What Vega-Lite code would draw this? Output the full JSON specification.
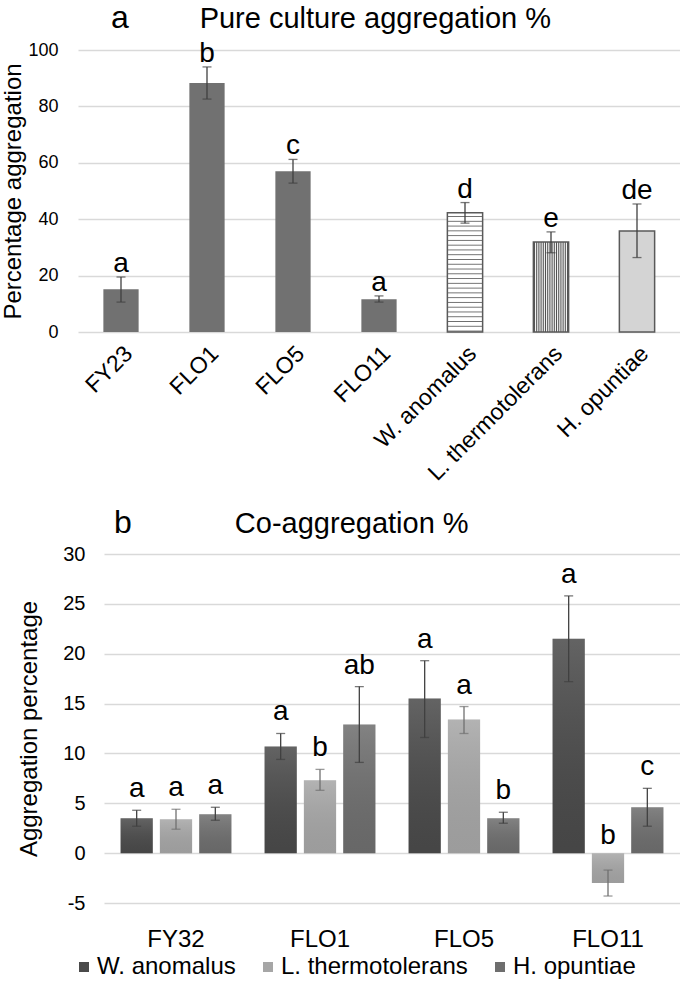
{
  "$schema": "https://vega.github.io/schema/vega-lite/v6.json",
  "background": "white",
  "padding": {"left": 0, "top": 1, "right": 0, "bottom": 0},
  "config": {
    "view": {"stroke": null},
    "font": "Liberation Sans",
    "axis": {"labelColor": "#000", "titleColor": "#000", "titleFontWeight": "normal", "gridColor": "#d9d9d9", "gridWidth": 1.3, "domain": false, "ticks": false, "labelFont": "Liberation Sans", "titleFont": "Liberation Sans"},
    "title": {"fontWeight": "normal", "color": "#000", "subtitleColor": "#000", "font": "Liberation Sans", "subtitleFont": "Liberation Sans"},
    "legend": {"labelFont": "Liberation Sans", "labelColor": "#000"},
    "text": {"font": "Liberation Sans", "color": "#000"}
  },
  "spacing": 22,
  "resolve": {"legend": {"color": "independent"}},
  "vconcat": [
    {
      "spacing": 0,
      "hconcat": [
        {
          "width": 1,
          "height": 10,
          "view": {"fill": "white"},
          "data": {"values": [{"s": ""}]},
          "mark": "text",
          "encoding": {"text": {"field": "s"}}
        },
        {
          "width": 602,
          "height": 282,
          "data": {"values": [
            {"strain": "FY23", "value": 15.2, "lo": 10.6, "hi": 19.5, "letter": "a"},
            {"strain": "FLO1", "value": 88.3, "lo": 82.6, "hi": 94.0, "letter": "b"},
            {"strain": "FLO5", "value": 57.0, "lo": 52.8, "hi": 61.2, "letter": "c"},
            {"strain": "FLO11", "value": 11.6, "lo": 10.6, "hi": 12.8, "letter": "a"},
            {"strain": "W. anomalus", "value": 42.3, "lo": 38.6, "hi": 45.9, "letter": "d"},
            {"strain": "L. thermotolerans", "value": 31.9, "lo": 28.1, "hi": 35.5, "letter": "e"},
            {"strain": "H. opuntiae", "value": 35.8, "lo": 26.4, "hi": 45.4, "letter": "de"}
          ]},
          "title": {
            "text": "a",
            "subtitle": "\u200b\u00a0\u00a0\u00a0\u00a0\u00a0\u00a0\u00a0\u00a0\u00a0\u00a0\u00a0Pure culture aggregation %",
            "anchor": "start", "frame": "group", "dx": 33, "fontSize": 32, "subtitleFontSize": 29, "subtitlePadding": -30, "offset": 5
          },
          "encoding": {
            "x": {"field": "strain", "type": "nominal", "sort": null, "title": null,
              "scale": {"paddingInner": 0.59, "paddingOuter": 0.295},
              "axis": {"labelAngle": -45, "labelFontSize": 23, "labelPadding": 10, "labelLimit": 300, "grid": false}}
          },
          "layer": [
            {
              "transform": [{"filter": "indexof(['FY23','FLO1','FLO5','FLO11'], datum.strain) >= 0"}],
              "mark": {"type": "bar", "fill": "#717171"},
              "encoding": {"y": {"field": "value", "type": "quantitative", "title": "Percentage aggregation",
                "scale": {"domain": [0, 100], "nice": false},
                "axis": {"values": [0, 20, 40, 60, 80, 100], "labelFontSize": 18, "labelPadding": 20, "titleFontSize": 24, "titlePadding": 2, "grid": true}}}
            },
            {
              "transform": [{"filter": "datum.strain === 'W. anomalus'"}],
              "mark": {"type": "bar", "stroke": "#595959", "strokeWidth": 1.5, "fill": {"gradient": "linear", "x1": 0, "y1": 0, "x2": 0, "y2": 1, "stops": [
                {"offset": 0, "color": "#ffffff"},
                {"offset": 0.024, "color": "#ffffff"}, {"offset": 0.032, "color": "#6e6e6e"}, {"offset": 0.04, "color": "#ffffff"},
                {"offset": 0.064, "color": "#ffffff"}, {"offset": 0.072, "color": "#6e6e6e"}, {"offset": 0.08, "color": "#ffffff"},
                {"offset": 0.104, "color": "#ffffff"}, {"offset": 0.112, "color": "#6e6e6e"}, {"offset": 0.12, "color": "#ffffff"},
                {"offset": 0.144, "color": "#ffffff"}, {"offset": 0.152, "color": "#6e6e6e"}, {"offset": 0.16, "color": "#ffffff"},
                {"offset": 0.184, "color": "#ffffff"}, {"offset": 0.192, "color": "#6e6e6e"}, {"offset": 0.2, "color": "#ffffff"},
                {"offset": 0.224, "color": "#ffffff"}, {"offset": 0.232, "color": "#6e6e6e"}, {"offset": 0.24, "color": "#ffffff"},
                {"offset": 0.264, "color": "#ffffff"}, {"offset": 0.272, "color": "#6e6e6e"}, {"offset": 0.28, "color": "#ffffff"},
                {"offset": 0.304, "color": "#ffffff"}, {"offset": 0.312, "color": "#6e6e6e"}, {"offset": 0.32, "color": "#ffffff"},
                {"offset": 0.344, "color": "#ffffff"}, {"offset": 0.352, "color": "#6e6e6e"}, {"offset": 0.36, "color": "#ffffff"},
                {"offset": 0.384, "color": "#ffffff"}, {"offset": 0.392, "color": "#6e6e6e"}, {"offset": 0.4, "color": "#ffffff"},
                {"offset": 0.424, "color": "#ffffff"}, {"offset": 0.432, "color": "#6e6e6e"}, {"offset": 0.44, "color": "#ffffff"},
                {"offset": 0.464, "color": "#ffffff"}, {"offset": 0.472, "color": "#6e6e6e"}, {"offset": 0.48, "color": "#ffffff"},
                {"offset": 0.504, "color": "#ffffff"}, {"offset": 0.512, "color": "#6e6e6e"}, {"offset": 0.52, "color": "#ffffff"},
                {"offset": 0.544, "color": "#ffffff"}, {"offset": 0.552, "color": "#6e6e6e"}, {"offset": 0.56, "color": "#ffffff"},
                {"offset": 0.584, "color": "#ffffff"}, {"offset": 0.592, "color": "#6e6e6e"}, {"offset": 0.6, "color": "#ffffff"},
                {"offset": 0.624, "color": "#ffffff"}, {"offset": 0.632, "color": "#6e6e6e"}, {"offset": 0.64, "color": "#ffffff"},
                {"offset": 0.664, "color": "#ffffff"}, {"offset": 0.672, "color": "#6e6e6e"}, {"offset": 0.68, "color": "#ffffff"},
                {"offset": 0.704, "color": "#ffffff"}, {"offset": 0.712, "color": "#6e6e6e"}, {"offset": 0.72, "color": "#ffffff"},
                {"offset": 0.744, "color": "#ffffff"}, {"offset": 0.752, "color": "#6e6e6e"}, {"offset": 0.76, "color": "#ffffff"},
                {"offset": 0.784, "color": "#ffffff"}, {"offset": 0.792, "color": "#6e6e6e"}, {"offset": 0.8, "color": "#ffffff"},
                {"offset": 0.824, "color": "#ffffff"}, {"offset": 0.832, "color": "#6e6e6e"}, {"offset": 0.84, "color": "#ffffff"},
                {"offset": 0.864, "color": "#ffffff"}, {"offset": 0.872, "color": "#6e6e6e"}, {"offset": 0.88, "color": "#ffffff"},
                {"offset": 0.904, "color": "#ffffff"}, {"offset": 0.912, "color": "#6e6e6e"}, {"offset": 0.92, "color": "#ffffff"},
                {"offset": 0.944, "color": "#ffffff"}, {"offset": 0.952, "color": "#6e6e6e"}, {"offset": 0.96, "color": "#ffffff"},
                {"offset": 0.984, "color": "#ffffff"}, {"offset": 0.992, "color": "#6e6e6e"}, {"offset": 1, "color": "#ffffff"}
              ]}},
              "encoding": {"y": {"field": "value", "type": "quantitative", "title": "Percentage aggregation"}}
            },
            {
              "transform": [{"filter": "datum.strain === 'L. thermotolerans'"}],
              "mark": {"type": "bar", "stroke": "#595959", "strokeWidth": 1.5, "fill": {"gradient": "linear", "x1": 0, "y1": 0, "x2": 1, "y2": 0, "stops": [
                {"offset": 0, "color": "#ffffff"}, {"offset": 0.03125, "color": "#505050"},
                {"offset": 0.0625, "color": "#ffffff"}, {"offset": 0.09375, "color": "#505050"},
                {"offset": 0.125, "color": "#ffffff"}, {"offset": 0.15625, "color": "#505050"},
                {"offset": 0.1875, "color": "#ffffff"}, {"offset": 0.21875, "color": "#505050"},
                {"offset": 0.25, "color": "#ffffff"}, {"offset": 0.28125, "color": "#505050"},
                {"offset": 0.3125, "color": "#ffffff"}, {"offset": 0.34375, "color": "#505050"},
                {"offset": 0.375, "color": "#ffffff"}, {"offset": 0.40625, "color": "#505050"},
                {"offset": 0.4375, "color": "#ffffff"}, {"offset": 0.46875, "color": "#505050"},
                {"offset": 0.5, "color": "#ffffff"}, {"offset": 0.53125, "color": "#505050"},
                {"offset": 0.5625, "color": "#ffffff"}, {"offset": 0.59375, "color": "#505050"},
                {"offset": 0.625, "color": "#ffffff"}, {"offset": 0.65625, "color": "#505050"},
                {"offset": 0.6875, "color": "#ffffff"}, {"offset": 0.71875, "color": "#505050"},
                {"offset": 0.75, "color": "#ffffff"}, {"offset": 0.78125, "color": "#505050"},
                {"offset": 0.8125, "color": "#ffffff"}, {"offset": 0.84375, "color": "#505050"},
                {"offset": 0.875, "color": "#ffffff"}, {"offset": 0.90625, "color": "#505050"},
                {"offset": 0.9375, "color": "#ffffff"}, {"offset": 0.96875, "color": "#505050"},
                {"offset": 1, "color": "#ffffff"}
              ]}},
              "encoding": {"y": {"field": "value", "type": "quantitative", "title": "Percentage aggregation"}}
            },
            {
              "transform": [{"filter": "datum.strain === 'H. opuntiae'"}],
              "mark": {"type": "bar", "stroke": "#595959", "strokeWidth": 1.5, "fill": "#d4d4d4"},
              "encoding": {"y": {"field": "value", "type": "quantitative", "title": "Percentage aggregation"}}
            },
            {
              "mark": {"type": "rule", "color": "#404040", "strokeWidth": 1.3},
              "encoding": {"y": {"field": "lo", "type": "quantitative", "title": "Percentage aggregation"}, "y2": {"field": "hi"}}
            },
            {
              "mark": {"type": "tick", "color": "#404040", "thickness": 1.3, "size": 9},
              "encoding": {"y": {"field": "lo", "type": "quantitative", "title": "Percentage aggregation"}}
            },
            {
              "mark": {"type": "tick", "color": "#404040", "thickness": 1.3, "size": 9},
              "encoding": {"y": {"field": "hi", "type": "quantitative", "title": "Percentage aggregation"}}
            },
            {
              "mark": {"type": "text", "fontSize": 28, "baseline": "alphabetic", "dy": -5},
              "encoding": {"y": {"field": "hi", "type": "quantitative", "title": "Percentage aggregation"}, "text": {"field": "letter"}}
            }
          ]
        }
      ]
    },
    {
      "spacing": 0,
      "resolve": {"legend": {"color": "independent"}},
      "hconcat": [
        {
          "width": 17,
          "height": 10,
          "view": {"fill": "white"},
          "data": {"values": [{"s": ""}]},
          "mark": "text",
          "encoding": {"text": {"field": "s"}}
        },
        {
          "width": 576,
          "height": 349,
          "data": {"values": [
            {"strain": "FY32", "species": "W. anomalus", "value": 3.5, "lo": 2.7, "hi": 4.3, "letter": "a"},
            {"strain": "FY32", "species": "L. thermotolerans", "value": 3.4, "lo": 2.4, "hi": 4.4, "letter": "a"},
            {"strain": "FY32", "species": "H. opuntiae", "value": 3.9, "lo": 3.3, "hi": 4.6, "letter": "a"},
            {"strain": "FLO1", "species": "W. anomalus", "value": 10.7, "lo": 9.4, "hi": 12.0, "letter": "a"},
            {"strain": "FLO1", "species": "L. thermotolerans", "value": 7.3, "lo": 6.3, "hi": 8.4, "letter": "b"},
            {"strain": "FLO1", "species": "H. opuntiae", "value": 12.9, "lo": 9.1, "hi": 16.7, "letter": "ab"},
            {"strain": "FLO5", "species": "W. anomalus", "value": 15.5, "lo": 11.6, "hi": 19.3, "letter": "a"},
            {"strain": "FLO5", "species": "L. thermotolerans", "value": 13.4, "lo": 12.0, "hi": 14.7, "letter": "a"},
            {"strain": "FLO5", "species": "H. opuntiae", "value": 3.5, "lo": 3.0, "hi": 4.1, "letter": "b"},
            {"strain": "FLO11", "species": "W. anomalus", "value": 21.5, "lo": 17.2, "hi": 25.8, "letter": "a"},
            {"strain": "FLO11", "species": "L. thermotolerans", "value": -3.0, "lo": -4.3, "hi": -1.7, "letter": "b"},
            {"strain": "FLO11", "species": "H. opuntiae", "value": 4.6, "lo": 2.7, "hi": 6.5, "letter": "c"}
          ]},
          "title": {
            "text": "b",
            "subtitle": "\u200b\u00a0\u00a0\u00a0\u00a0\u00a0\u00a0\u00a0\u00a0\u00a0\u00a0\u00a0\u00a0\u00a0\u00a0\u00a0Co-aggregation %",
            "anchor": "start", "frame": "group", "dx": 10, "fontSize": 32, "subtitleFontSize": 29, "subtitlePadding": -30, "offset": 4
          },
          "encoding": {
            "x": {"field": "strain", "type": "nominal", "sort": null, "title": null,
              "scale": {"paddingInner": 0.23, "paddingOuter": 0.115},
              "axis": {"labelAngle": 0, "labelFontSize": 24, "labelPadding": 24, "grid": false}},
            "xOffset": {"field": "species", "type": "nominal", "sort": ["W. anomalus", "L. thermotolerans", "H. opuntiae"],
              "scale": {"paddingInner": 0.18, "paddingOuter": 0}}
          },
          "layer": [
            {
              "mark": {"type": "bar"},
              "encoding": {
                "y": {"field": "value", "type": "quantitative", "title": "Aggregation percentage",
                  "scale": {"domain": [-5, 30], "nice": false},
                  "axis": {"values": [-5, 0, 5, 10, 15, 20, 25, 30], "labelExpr": "'' + datum.value", "labelFontSize": 20, "labelPadding": 19, "titleFontSize": 24, "titlePadding": 21, "grid": true}},
                "color": {"field": "species", "type": "nominal", "sort": ["W. anomalus", "L. thermotolerans", "H. opuntiae"],
                  "scale": {"domain": ["W. anomalus", "L. thermotolerans", "H. opuntiae"], "range": ["#4a4a4a", "#a6a6a6", "#6e6e6e"]},
                  "legend": {"title": null, "orient": "none", "legendX": -32, "legendY": 401, "direction": "horizontal", "symbolType": "square", "symbolSize": 100, "symbolStrokeWidth": 0, "symbolOpacity": 1, "labelFontSize": 24, "labelLimit": 300, "columnPadding": 20, "labelOffset": 1}}
              }
            },
            {
              "mark": {"type": "bar", "fill": {"gradient": "linear", "x1": 0, "y1": 0, "x2": 0, "y2": 1, "stops": [
                {"offset": 0, "color": "rgba(255,255,255,0.14)"},
                {"offset": 1, "color": "rgba(0,0,0,0.06)"}
              ]}},
              "encoding": {"y": {"field": "value", "type": "quantitative", "title": "Aggregation percentage"}}
            },
            {
              "mark": {"type": "rule", "strokeWidth": 1.3},
              "encoding": {
                "y": {"field": "lo", "type": "quantitative", "title": "Aggregation percentage"}, "y2": {"field": "hi"},
                "color": {"condition": {"test": "datum.species === 'L. thermotolerans'", "value": "#707070"}, "value": "#404040"}
              }
            },
            {
              "mark": {"type": "tick", "thickness": 1.3, "size": 9},
              "encoding": {
                "y": {"field": "lo", "type": "quantitative", "title": "Aggregation percentage"},
                "color": {"condition": {"test": "datum.species === 'L. thermotolerans'", "value": "#707070"}, "value": "#404040"}
              }
            },
            {
              "mark": {"type": "tick", "thickness": 1.3, "size": 9},
              "encoding": {
                "y": {"field": "hi", "type": "quantitative", "title": "Aggregation percentage"},
                "color": {"condition": {"test": "datum.species === 'L. thermotolerans'", "value": "#707070"}, "value": "#404040"}
              }
            },
            {
              "transform": [{"filter": "datum.hi > 0"}],
              "mark": {"type": "text", "fontSize": 28, "baseline": "alphabetic", "dy": -13},
              "encoding": {"y": {"field": "hi", "type": "quantitative", "title": "Aggregation percentage"}, "text": {"field": "letter"}}
            },
            {
              "transform": [{"filter": "datum.hi <= 0"}],
              "mark": {"type": "text", "fontSize": 28, "baseline": "alphabetic", "dy": -9},
              "encoding": {"y": {"datum": 0, "type": "quantitative"}, "text": {"field": "letter"}}
            }
          ]
        }
      ]
    }
  ]
}
